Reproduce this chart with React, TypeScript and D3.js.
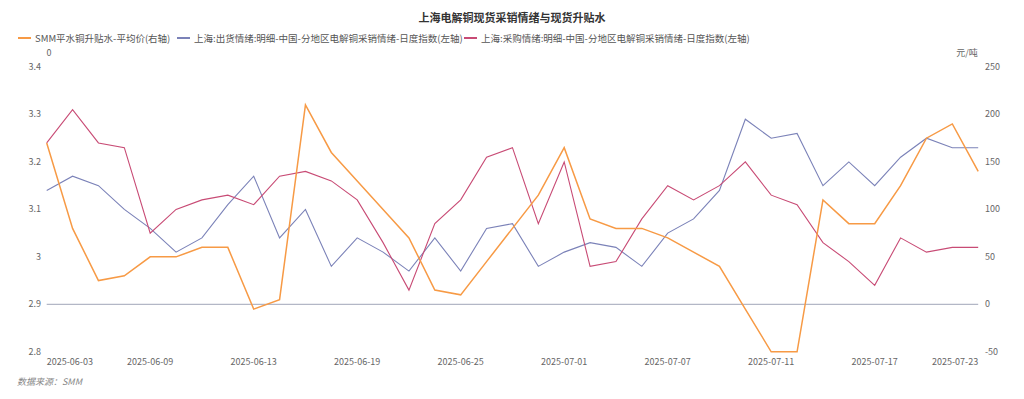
import * as d3 from 'd3';

const dates = [
  '2025-06-03', '2025-06-04', '2025-06-05', '2025-06-06', '2025-06-09', '2025-06-10',
  '2025-06-11', '2025-06-12', '2025-06-13', '2025-06-16', '2025-06-17', '2025-06-18',
  '2025-06-19', '2025-06-20', '2025-06-23', '2025-06-24', '2025-06-25', '2025-06-26',
  '2025-06-27', '2025-06-30', '2025-07-01', '2025-07-02', '2025-07-03', '2025-07-04',
  '2025-07-07', '2025-07-08', '2025-07-09', '2025-07-10', '2025-07-11', '2025-07-14',
  '2025-07-15', '2025-07-16', '2025-07-17', '2025-07-18', '2025-07-21', '2025-07-22',
  '2025-07-23',
];

// SMM平水铜升贴水-平均价 (right axis, 元/吨)
const premium = [
  170, 80, 25, 30, 50, 50, 60, 60, -5, 5, 210, 160, 130, 100, 70, 15, 10, 45, 80, 115,
  165, 90, 80, 80, 70, 55, 40, -5, -50, -50, 110, 85, 85, 125, 175, 190, 140,
];

// 出货情绪 (left axis)
const shipping = [
  3.14, 3.17, 3.15, 3.1, 3.06, 3.01, 3.04, 3.11, 3.17, 3.04, 3.1, 2.98, 3.04, 3.01, 2.97,
  3.04, 2.97, 3.06, 3.07, 2.98, 3.01, 3.03, 3.02, 2.98, 3.05, 3.08, 3.14, 3.29, 3.25, 3.26,
  3.15, 3.2, 3.15, 3.21, 3.25, 3.23, 3.23,
];

// 采购情绪 (left axis)
const purchase = [
  3.24, 3.31, 3.24, 3.23, 3.05, 3.1, 3.12, 3.13, 3.11, 3.17, 3.18, 3.16, 3.12, 3.03, 2.93,
  3.07, 3.12, 3.21, 3.23, 3.07, 3.2, 2.98, 2.99, 3.08, 3.15, 3.12, 3.15, 3.2, 3.13, 3.11,
  3.03, 2.99, 2.94, 3.04, 3.01, 3.02, 3.02,
];

const leftTicks = [2.8, 2.9, 3, 3.1, 3.2, 3.3, 3.4];
const rightTicks = [-50, 0, 50, 100, 150, 200, 250];
const labelEvery = 4;

const seriesNames = [
  'SMM平水铜升贴水-平均价(右轴)',
  '上海:出货情绪:明细-中国-分地区电解铜采销情绪-日度指数(左轴)',
  '上海:采购情绪:明细-中国-分地区电解铜采销情绪-日度指数(左轴)',
];
const colors = ['#F79A45', '#7B82B8', '#C84B75'];

const W = 1024;
const H = 399;
const FONT = '"Noto Sans CJK SC", "Noto Sans", sans-serif';

export default function App() {
  const left = 46.7;
  const right = 978.2;
  const top = 67;
  const bottom = 351.8;

  const x = d3.scalePoint<string>().domain(dates).range([left, right]);
  const yL = d3.scaleLinear().domain([2.8, 3.4]).range([bottom, top]);
  const yR = d3.scaleLinear().domain([-50, 250]).range([bottom, top]);

  const lineR = d3
    .line<number>()
    .x((_, i) => x(dates[i]) as number)
    .y((d) => yR(d));
  const lineL = d3
    .line<number>()
    .x((_, i) => x(dates[i]) as number)
    .y((d) => yL(d));

  const legendX = [18, 177, 464];

  return (
    <svg
      width={W}
      height={H}
      style={{ position: 'absolute', left: 0, top: 0, background: '#fff' }}
      fontFamily={FONT}
    >
      <text x={512} y={22} textAnchor="middle" fontSize={11} fontWeight="bold" fill="#333">
        上海电解铜现货采销情绪与现货升贴水
      </text>

      {/* legend */}
      {seriesNames.map((name, i) => (
        <g key={name} transform={`translate(${legendX[i]}, 38)`}>
          <line x1={0} x2={13} y1={0} y2={0} stroke={colors[i]} strokeWidth={2} />
          <text x={17} y={3.5} fontSize={9.5} fill="#555">
            {name}
          </text>
        </g>
      ))}

      {/* axis names */}
      <text x={49} y={56} fontSize={9} fill="#666" textAnchor="middle">
        0
      </text>
      <text x={967} y={56} fontSize={9} fill="#666" textAnchor="middle">
        元/吨
      </text>

      {/* left axis */}
      {leftTicks.map((t) => (
        <text key={t} x={41} y={yL(t) + 3} fontSize={9} fill="#666" textAnchor="end">
          {d3.format('~g')(t)}
        </text>
      ))}

      {/* right axis */}
      {rightTicks.map((t) => (
        <text key={t} x={985} y={yR(t) + 3} fontSize={9} fill="#666" textAnchor="start">
          {t}
        </text>
      ))}

      {/* zero line of the right axis */}
      <line x1={left} x2={right} y1={yR(0)} y2={yR(0)} stroke="#B3B7C6" strokeWidth={1.2} />

      {/* x labels */}
      {dates.map((d, i) => {
        if (i % labelEvery !== 0 && i !== dates.length - 1) return null;
        const anchor = i === 0 ? 'start' : i === dates.length - 1 ? 'end' : 'middle';
        return (
          <text key={d} x={x(d)} y={365} fontSize={9} fill="#666" textAnchor={anchor}>
            {d}
          </text>
        );
      })}

      {/* series */}
      <path d={lineL(shipping) || ''} fill="none" stroke={colors[1]} strokeWidth={1.1} />
      <path d={lineL(purchase) || ''} fill="none" stroke={colors[2]} strokeWidth={1.1} />
      <path d={lineR(premium) || ''} fill="none" stroke={colors[0]} strokeWidth={1.5} />

      <text x={17} y={385} fontSize={9} fill="#888" fontStyle="italic">
        数据来源：SMM
      </text>
    </svg>
  );
}
